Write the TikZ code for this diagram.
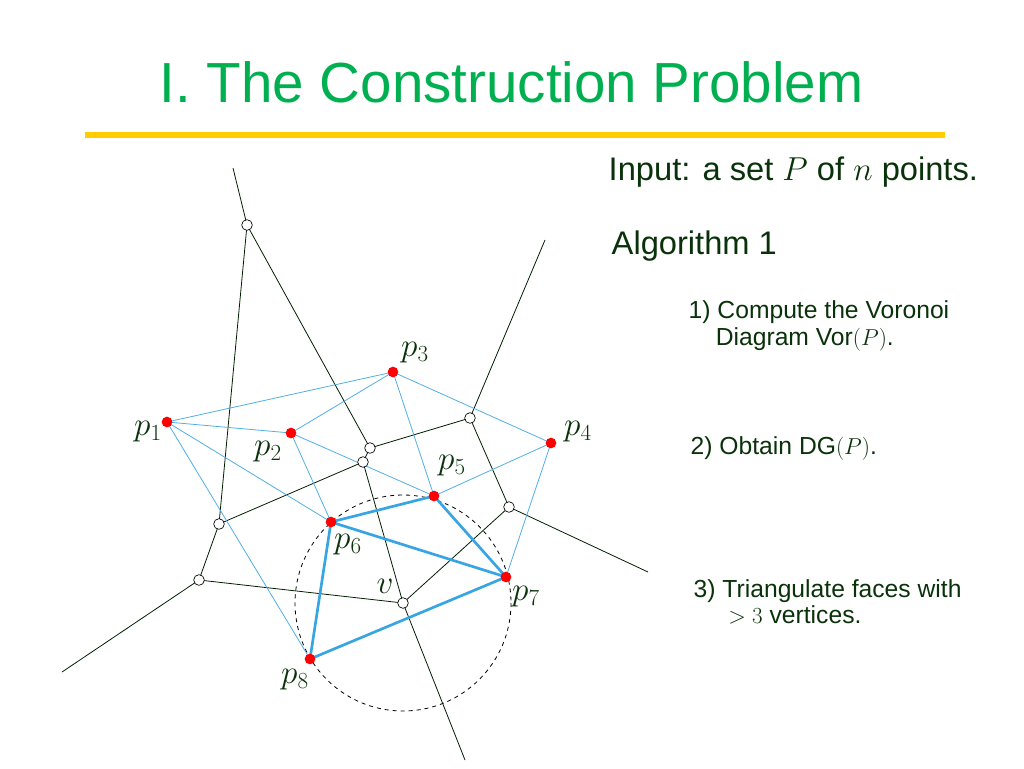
\documentclass[tikz,border=0pt]{standalone}
\usepackage{fontspec}
\setmainfont{Liberation Sans}
\definecolor{tgreen}{RGB}{0,176,80}
\definecolor{dgreen}{RGB}{10,50,10}
\begin{document}
\begin{tikzpicture}[x=0.75pt,y=-0.75pt,
 vor/.style={draw=black!70!green!40!black,line width=0.6pt},
 del/.style={draw=cyan!80!blue!70,line width=0.6pt},
 thk/.style={draw=cyan!80!blue!80,line width=2pt},
 site/.style={circle,fill=red,inner sep=0pt,minimum size=8pt},
 vv/.style={circle,draw=black,fill=white,inner sep=0pt,minimum size=8pt,line width=0.5pt},
 lab/.style={text=dgreen,font=\fontsize{18.5}{20}\selectfont},
 ml/.style={text=dgreen,font=\fontsize{23}{25}\selectfont}]
\useasboundingbox (0,0) rectangle (1024,768);
\node[text=tgreen,font=\fontsize{42.4}{46}\selectfont,anchor=west] (title) at (155,82) {I. The Construction Problem};
\draw[draw=orange!40!yellow,line width=4.5pt] (85,135) -- (945,135);
\node[lab,font=\fontsize{24.5}{26}\selectfont,anchor=west] (in) at (604,172) {Input: a set $P$ of $n$ points.};
\node[lab,font=\fontsize{24.5}{26}\selectfont,anchor=west] (alg) at (607,246) {Algorithm 1};
\node[lab,anchor=west,align=left] (s1) at (684,326) {1) Compute the Voronoi\\\hspace{1.1em}Diagram Vor$(P)$.};
\node[lab,anchor=west] (s2) at (686,448) {2) Obtain DG$(P)$.};
\node[lab,anchor=west,align=left] (s3) at (689,602) {3) Triangulate faces with\\\hspace{1.4em}$>3$ vertices.};
% circle
\draw[dashed,line width=0.6pt] (403,603) circle[radius=108];
% voronoi
\coordinate (t1) at (233,168); \coordinate (t2) at (545,240);
\coordinate (t3) at (648,572); \coordinate (t4) at (465,760); \coordinate (t5) at (62,672);
\path (247,225) coordinate (A) (370,448) coordinate (B) (470,418) coordinate (C)
 (363,462) coordinate (D) (509,507) coordinate (E) (219,524) coordinate (F)
 (199,580) coordinate (G) (403,603) coordinate (V);
\draw[vor] (t1)--(A) (A)--(F) (F)--(G) (G)--(t5) (A)--(B) (B)--(C) (C)--(t2) (C)--(E) (E)--(t3)
 (E)--(V) (V)--(G) (B)--(D) (D)--(F) (D)--(V) (V)--(t4);
% sites
\path (167,422) coordinate (p1) (291,433) coordinate (p2) (393,372) coordinate (p3)
 (551,443) coordinate (p4) (434,496) coordinate (p5) (331,522) coordinate (p6)
 (506,577) coordinate (p7) (310,659) coordinate (p8);
\draw[del] (p1)--(p3) (p1)--(p2) (p1)--(p6) (p1)--(p8) (p2)--(p3) (p2)--(p5) (p2)--(p6)
 (p3)--(p5) (p3)--(p4) (p4)--(p5) (p4)--(p7);
\draw[thk] (p6)--(p5) (p6)--(p7) (p6)--(p8) (p8)--(p7) (p5)--(p7);
\foreach \n in {A,B,C,D,E,F,G,V} \node[vv] (n\n) at (\n) {};
\foreach \n in {p1,p2,p3,p4,p5,p6,p7,p8} \node[site] (n\n) at (\n) {};
\node[ml] (l1) at (148,432) {$p_1$};
\node[ml] (l2) at (268,452) {$p_2$};
\node[ml] (l3) at (415,353) {$p_3$};
\node[ml] (l4) at (578,432) {$p_4$};
\node[ml] (l5) at (452,466) {$p_5$};
\node[ml] (l6) at (348,545) {$p_6$};
\node[ml] (l7) at (526,597) {$p_7$};
\node[ml] (l8) at (295,680) {$p_8$};
\node[ml] (lv) at (385,586) {$v$};
\end{tikzpicture}
\end{document}
